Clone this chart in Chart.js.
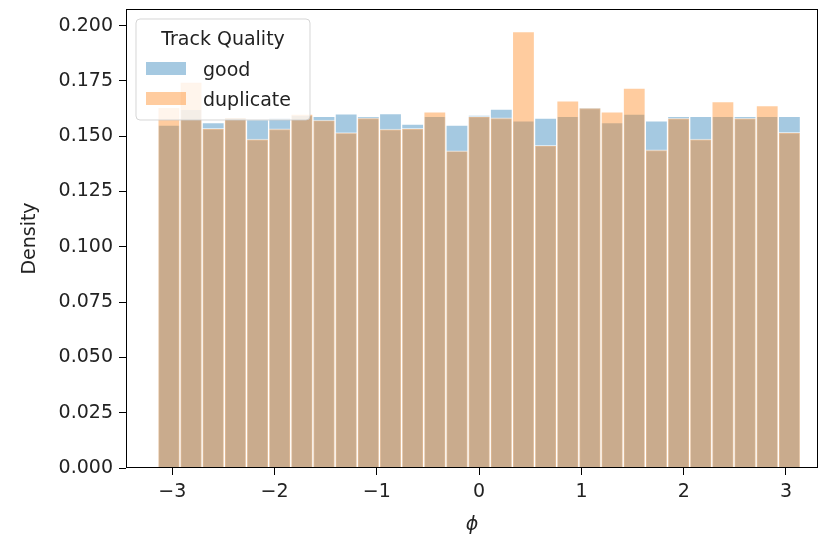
<!DOCTYPE html>
<html>
<head>
<meta charset="utf-8">
<script src="https://cdn.jsdelivr.net/npm/chart.js@4.4.0/dist/chart.umd.min.js"></script>
<style>
html, body { margin: 0; padding: 0; background: #fff; }
#wrap { width: 819px; height: 541px; }
</style>
</head>
<body>
<div id="wrap"><canvas id="hist" width="819" height="541"></canvas></div>
<script>
// phi distribution, density histogram, 29 bins over [-pi, pi]
var binCount = 29;
var phiMin = -Math.PI;
var phiMax = Math.PI;

var seriesLabels = ["good", "duplicate"];
var legendTitle = "Track Quality";

var goodDensity = [
    0.1550, 0.1622, 0.1562, 0.1585, 0.1575, 0.1583, 0.1595, 0.1590, 0.1601, 0.1590,
    0.1602, 0.1555, 0.1590, 0.1550, 0.1595, 0.1623, 0.1570, 0.1582, 0.1590, 0.1630,
    0.1562, 0.1600, 0.1570, 0.1590, 0.1590, 0.1590, 0.1590, 0.1590, 0.1590
];
var duplicateDensity = [
    0.1630, 0.1745, 0.1535, 0.1585, 0.1487, 0.1533, 0.1600, 0.1573, 0.1516, 0.1583,
    0.1532, 0.1535, 0.1610, 0.1434, 0.1590, 0.1583, 0.1973, 0.1459, 0.1660, 0.1628,
    0.1610, 0.1717, 0.1438, 0.1582, 0.1487, 0.1656, 0.1582, 0.1638, 0.1517
];

var yTickStep = 0.025;
var xTickStep = 1;

var binWidth = (phiMax - phiMin) / binCount;
var binCenters = [];
for (var i = 0; i < binCount; i++) {
    binCenters.push(phiMin + (i + 0.5) * binWidth);
}

function toPoints(values) {
    return values.map((v, i) => ({ x: binCenters[i], y: v }));
}

var blue = "rgba(31, 119, 180, 0.4)";
var orange = "rgba(255, 127, 14, 0.4)";

Chart.defaults.font.family = "'DejaVu Sans', sans-serif";
Chart.defaults.font.size = 19;
Chart.defaults.color = "#222";

// axes frame + legend box drawn inside the plot like matplotlib
var framePlugin = {
    id: "frame",
    afterDraw(chart) {
        var ctx = chart.ctx;
        var a = chart.chartArea;
        ctx.save();
        ctx.strokeStyle = "#000";
        ctx.lineWidth = 1;
        ctx.strokeRect(Math.round(a.left) + 0.5, Math.round(a.top) + 0.5,
            Math.round(a.right - a.left) - 1, Math.round(a.bottom - a.top) - 1);

        // legend
        var bx = 136, by = 19, bw = 174, bh = 101, r = 4;
        ctx.beginPath();
        ctx.moveTo(bx + r, by);
        ctx.arcTo(bx + bw, by, bx + bw, by + bh, r);
        ctx.arcTo(bx + bw, by + bh, bx, by + bh, r);
        ctx.arcTo(bx, by + bh, bx, by, r);
        ctx.arcTo(bx, by, bx + bw, by, r);
        ctx.closePath();
        ctx.fillStyle = "rgba(255,255,255,0.8)";
        ctx.fill();
        ctx.strokeStyle = "rgba(204,204,204,0.8)";
        ctx.stroke();

        ctx.font = "19px 'DejaVu Sans'";
        ctx.fillStyle = "#222";
        ctx.textBaseline = "alphabetic";
        ctx.textAlign = "center";
        ctx.fillText(legendTitle, bx + bw / 2, 44.5);

        var colors = [blue, orange];
        var rows = [76, 106];
        ctx.textAlign = "left";
        for (var k = 0; k < seriesLabels.length; k++) {
            var base = rows[k];
            ctx.fillStyle = colors[k];
            ctx.fillRect(146, base - 14, 40, 13);
            ctx.fillStyle = "#222";
            ctx.fillText(seriesLabels[k], 203, base);
        }
        ctx.restore();
    }
};

var ctx = document.getElementById("hist");
var histChart = new Chart(ctx, {
    type: "bar",
    data: {
        datasets: [
            {
                label: seriesLabels[0],
                data: toPoints(goodDensity),
                backgroundColor: blue,
                borderColor: "rgba(255, 255, 255, 0.6)",
                borderWidth: 1,
                order: 2,
            },
            {
                label: seriesLabels[1],
                data: toPoints(duplicateDensity),
                backgroundColor: orange,
                borderColor: "rgba(255, 255, 255, 0.6)",
                borderWidth: 1,
                order: 1,
            },
        ],
    },
    options: {
        responsive: false,
        animation: false,
        events: [],
        grouped: false,
        barPercentage: 1,
        categoryPercentage: 1,
        layout: {
            padding: { top: 9, right: 1, left: 0, bottom: 0 },
        },
        plugins: {
            legend: { display: false },
            tooltip: { enabled: false },
        },
        scales: {
            x: {
                type: "linear",
                offset: false,
                min: -3.4526,
                max: 3.313,
                afterFit(s) {
                    s.height = 73;
                    s.paddingLeft = 0;
                    s.paddingRight = 0;
                },
                ticks: {
                    stepSize: xTickStep,
                    includeBounds: false,
                    padding: 6,
                    color: "#222",
                    callback: (v) => (v < 0 ? "\u2212" + Math.abs(v) : String(v)),
                },
                grid: {
                    offset: false,
                    drawOnChartArea: false,
                    drawTicks: true,
                    tickLength: 7,
                    tickColor: "#000",
                    tickWidth: 1,
                },
                border: { display: false },
                title: {
                    display: true,
                    text: "\u03d5",
                    font: { size: 19, style: "italic" },
                    color: "#222",
                    padding: { top: 0, bottom: 5 },
                },
            },
            y: {
                type: "linear",
                min: 0,
                max: 0.2075,
                afterFit(s) {
                    s.width = 126;
                    s.paddingTop = 0;
                    s.paddingBottom = 0;
                },
                ticks: {
                    stepSize: yTickStep,
                    includeBounds: false,
                    padding: 6,
                    color: "#222",
                    callback: (v) => v.toFixed(3),
                },
                grid: {
                    drawOnChartArea: false,
                    drawTicks: true,
                    tickLength: 7,
                    tickColor: "#000",
                    tickWidth: 1,
                },
                border: { display: false },
                title: {
                    display: true,
                    text: "Density",
                    color: "#222",
                    padding: { top: 19, bottom: 0 },
                },
            },
        },
    },
    plugins: [framePlugin],
});
</script>
</body>
</html>
